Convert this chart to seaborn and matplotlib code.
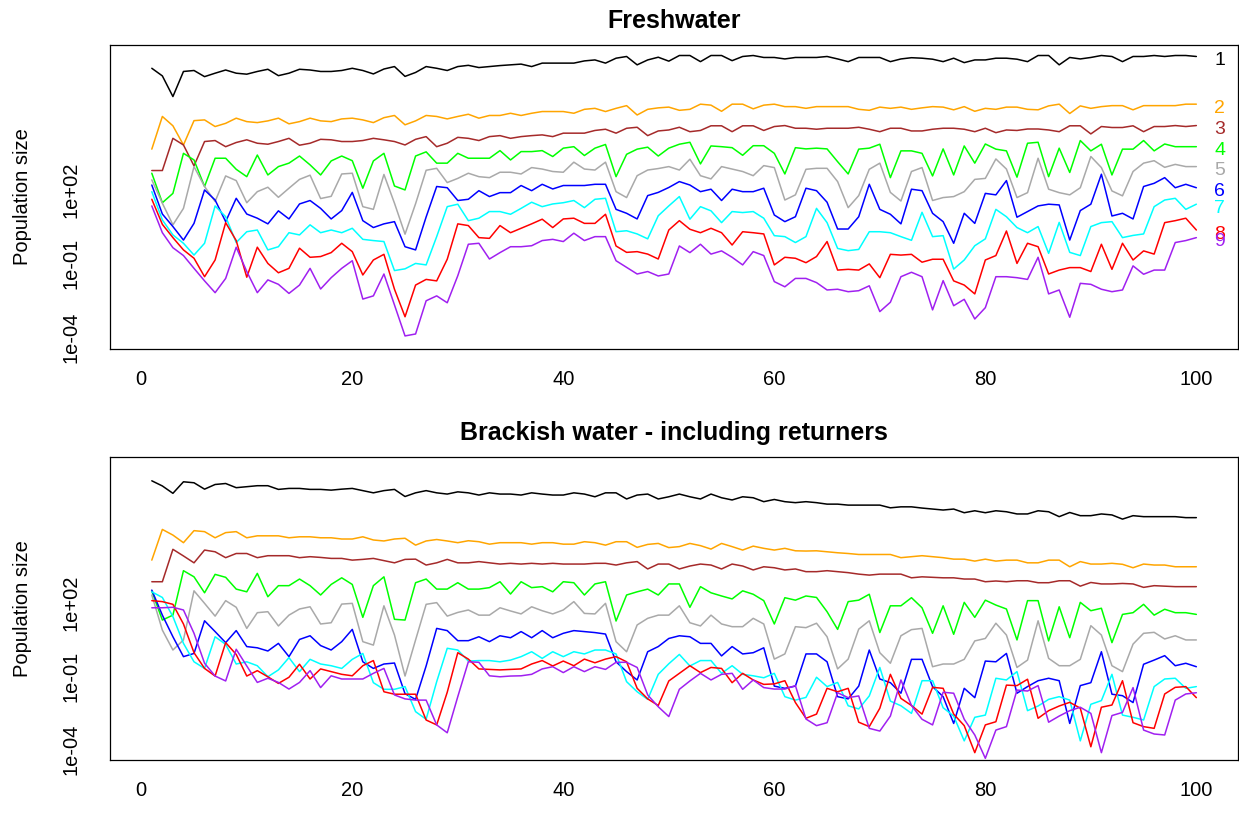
import numpy as np
import pandas as pd
import matplotlib
matplotlib.use("Agg")
import matplotlib.pyplot as plt
import seaborn as sns

# time steps and size classes
time = np.arange(1, 101)
class_labels = ["1", "2", "3", "4", "5", "6", "7", "8", "9"]
series_colors = ["black", "#FFA500", "#A52A2A", "#00FF00", "#A9A9A9",
                 "#0000FF", "#00FFFF", "#FF0000", "#A020F0"]
ytick_vals = [1e-4, 1e-1, 1e2, 1e5]
ytick_text = ["1e-04", "1e-01", "1e+02", ""]
xtick_vals = [0, 20, 40, 60, 80, 100]

# population size, log10 values
# Freshwater
fresh_1 = [6.95, 6.64, 5.80, 6.82, 6.86, 6.61, 6.75, 6.88, 6.75, 6.71,
           6.82, 6.91, 6.65, 6.75, 6.91, 6.88, 6.82, 6.82, 6.86, 6.95,
           6.86, 6.72, 6.92, 7.02, 6.62, 6.78, 7.02, 6.95, 6.86, 7.02,
           7.07, 6.98, 7.02, 7.06, 7.09, 7.12, 7.02, 7.16, 7.16, 7.16,
           7.16, 7.25, 7.29, 7.16, 7.36, 7.43, 7.09, 7.29, 7.40, 7.24,
           7.47, 7.47, 7.22, 7.47, 7.47, 7.26, 7.43, 7.47, 7.39, 7.39,
           7.33, 7.39, 7.39, 7.39, 7.43, 7.33, 7.22, 7.39, 7.39, 7.39,
           7.22, 7.33, 7.38, 7.36, 7.32, 7.22, 7.36, 7.18, 7.29, 7.29,
           7.36, 7.36, 7.32, 7.22, 7.47, 7.47, 7.09, 7.39, 7.33, 7.39,
           7.47, 7.43, 7.22, 7.43, 7.43, 7.47, 7.43, 7.47, 7.47, 7.43]
fresh_2 = [3.66, 4.99, 4.61, 3.83, 4.82, 4.85, 4.58, 4.71, 4.92, 4.78,
           4.74, 4.81, 4.92, 4.69, 4.78, 4.92, 4.81, 4.78, 4.89, 4.92,
           4.85, 4.74, 4.94, 5.03, 4.65, 4.81, 5.03, 4.99, 4.89, 4.99,
           5.08, 4.92, 5.03, 5.03, 5.12, 5.03, 5.12, 5.19, 5.19, 5.19,
           5.12, 5.28, 5.32, 5.19, 5.32, 5.43, 5.05, 5.28, 5.34, 5.37,
           5.24, 5.28, 5.49, 5.45, 5.20, 5.49, 5.49, 5.30, 5.45, 5.49,
           5.39, 5.39, 5.32, 5.39, 5.39, 5.39, 5.39, 5.28, 5.24, 5.37,
           5.32, 5.37, 5.28, 5.34, 5.39, 5.37, 5.26, 5.39, 5.20, 5.32,
           5.28, 5.37, 5.37, 5.28, 5.26, 5.42, 5.49, 5.11, 5.42, 5.32,
           5.39, 5.43, 5.43, 5.26, 5.43, 5.43, 5.43, 5.43, 5.49, 5.49]
fresh_3 = [2.79, 2.79, 4.10, 3.83, 2.98, 3.97, 4.01, 3.76, 3.93, 4.04,
           3.90, 3.86, 3.97, 4.10, 3.82, 3.90, 4.06, 4.04, 3.97, 3.97,
           4.01, 4.10, 4.04, 3.97, 3.83, 4.06, 4.17, 3.76, 3.90, 4.14,
           4.10, 4.01, 4.17, 4.21, 4.10, 4.17, 4.21, 4.24, 4.17, 4.31,
           4.31, 4.31, 4.42, 4.47, 4.31, 4.51, 4.55, 4.21, 4.40, 4.44,
           4.55, 4.37, 4.42, 4.61, 4.61, 4.37, 4.61, 4.61, 4.42, 4.58,
           4.62, 4.51, 4.51, 4.47, 4.51, 4.51, 4.51, 4.55, 4.47, 4.37,
           4.51, 4.51, 4.40, 4.40, 4.47, 4.51, 4.51, 4.47, 4.37, 4.51,
           4.33, 4.44, 4.42, 4.48, 4.48, 4.44, 4.37, 4.61, 4.61, 4.28,
           4.58, 4.54, 4.54, 4.61, 4.37, 4.58, 4.58, 4.62, 4.58, 4.62]
fresh_4 = [2.68, 1.48, 1.86, 3.49, 3.22, 2.14, 3.29, 3.29, 2.84, 2.54,
           3.42, 2.61, 2.95, 3.09, 3.38, 3.02, 2.61, 3.18, 3.38, 3.19,
           2.07, 3.18, 3.49, 2.16, 2.00, 3.38, 3.55, 3.09, 3.09, 3.49,
           3.29, 3.29, 3.29, 3.60, 3.22, 3.56, 3.56, 3.60, 3.36, 3.70,
           3.76, 3.40, 3.70, 3.85, 2.54, 3.45, 3.66, 3.74, 3.38, 3.70,
           3.86, 3.94, 3.06, 3.79, 3.76, 3.72, 3.41, 3.80, 3.80, 3.49,
           2.65, 3.72, 3.67, 3.70, 3.67, 3.15, 2.65, 3.66, 3.70, 3.86,
           2.50, 3.59, 3.59, 3.49, 2.57, 3.67, 2.61, 3.79, 3.09, 3.87,
           3.66, 3.59, 2.52, 3.90, 3.94, 2.54, 3.70, 2.71, 4.01, 3.59,
           3.86, 2.61, 3.66, 3.66, 4.01, 3.59, 3.87, 3.76, 3.76, 3.76]
fresh_5 = [2.41, 1.46, 0.58, 1.25, 2.95, 2.14, 1.53, 2.57, 2.38, 1.48,
           1.93, 2.11, 1.70, 2.07, 2.43, 2.60, 1.65, 1.74, 2.65, 2.68,
           1.32, 1.21, 2.63, 1.46, 0.20, 1.44, 2.80, 2.88, 2.30, 2.47,
           2.68, 2.54, 2.50, 2.72, 2.72, 2.65, 2.91, 2.85, 2.75, 2.72,
           3.13, 2.85, 2.81, 3.13, 1.93, 1.69, 2.58, 2.81, 2.87, 2.95,
           2.81, 3.25, 2.58, 2.45, 2.95, 2.85, 2.75, 2.58, 2.99, 2.91,
           1.59, 1.80, 2.84, 2.88, 2.88, 2.34, 1.28, 1.77, 2.84, 3.09,
           1.90, 1.55, 2.75, 2.91, 1.57, 1.69, 1.73, 1.93, 2.43, 2.47,
           3.26, 2.85, 1.69, 1.89, 3.29, 2.03, 1.89, 1.80, 2.09, 3.36,
           2.91, 1.96, 1.76, 2.75, 3.09, 3.19, 2.92, 3.04, 2.95, 2.95]
fresh_6 = [2.20, 1.02, 0.51, -0.04, 0.64, 2.00, 1.59, 0.71, 1.66, 1.02,
           0.85, 0.62, 1.15, 0.82, 1.43, 1.57, 1.25, 0.82, 1.16, 1.90,
           0.75, 0.47, 0.62, 0.71, -0.31, -0.44, 0.90, 2.14, 2.09, 1.57,
           1.62, 1.97, 1.73, 1.89, 1.89, 2.18, 1.97, 2.23, 2.04, 2.18,
           2.18, 2.18, 2.23, 2.23, 1.21, 1.05, 0.82, 1.77, 1.90, 2.10,
           2.34, 2.20, 1.93, 2.03, 1.57, 2.03, 1.93, 1.93, 2.07, 0.98,
           0.71, 0.91, 2.07, 1.97, 1.50, 0.41, 0.41, 0.91, 2.23, 1.21,
           1.01, 0.62, 2.03, 1.97, 1.05, 0.71, -0.17, 1.05, 0.64, 1.86,
           1.80, 2.38, 0.89, 1.12, 1.35, 1.42, 1.39, -0.04, 1.16, 1.42,
           2.64, 0.94, 1.05, 0.82, 2.14, 2.27, 2.50, 2.09, 2.23, 2.09]
fresh_7 = [1.93, 0.78, 0.17, -0.17, -0.65, -0.17, 1.35, 0.91, -0.14, 0.30,
           0.37, -0.44, -0.31, 0.26, 0.17, 0.58, 0.26, 0.37, 0.26, 0.44,
           -0.01, -0.06, -0.10, -1.28, -1.21, -0.99, -1.05, 0.10, 1.32, 1.42,
           0.75, 0.85, 1.12, 1.12, 1.01, 1.25, 1.50, 1.32, 1.43, 1.48,
           1.57, 1.28, 1.62, 1.66, 0.30, 0.34, 0.21, 0.01, 0.95, 1.35,
           1.73, 0.81, 1.32, 1.15, 0.67, 1.12, 1.08, 1.12, 0.85, 0.14,
           0.10, -0.14, 0.10, 1.25, 0.67, -0.38, -0.47, -0.42, 0.30, 0.30,
           0.26, 0.10, -0.05, 1.09, 0.10, 0.14, -1.22, -0.85, -0.27, 0.01,
           1.21, 0.91, 0.47, 0.26, 0.51, -0.58, 0.68, -0.54, -0.67, 0.51,
           0.67, 0.71, 0.06, 0.15, 0.21, 1.32, 1.59, 1.66, 1.21, 1.42]
fresh_8 = [1.62, 0.60, 0.06, -0.44, -0.78, -1.53, -0.85, 0.67, -0.06, -1.55,
           -0.33, -0.99, -1.37, -1.19, -0.37, -0.74, -0.71, -0.55, -0.17, -0.51,
           -1.46, -0.85, -0.62, -2.04, -3.16, -1.87, -1.64, -1.70, -0.82, 0.62,
           0.55, 0.06, 0.03, 0.55, 0.26, 0.44, 0.62, 0.81, 0.47, 0.82,
           0.85, 0.64, 0.64, 1.01, -0.28, -0.54, -0.51, -0.61, -0.81, 0.37,
           0.75, 0.40, 0.26, 0.44, 0.26, -0.24, 0.30, 0.26, 0.21, -1.05,
           -0.74, -0.78, -0.96, -0.71, -0.10, -1.26, -1.23, -1.26, -1.01, -1.57,
           -0.62, -0.65, -0.62, -0.94, -0.82, -0.82, -1.70, -1.87, -2.23, -0.85,
           -0.67, 0.33, -0.99, -0.17, -0.31, -1.42, -1.26, -1.16, -1.16, -1.32,
           -0.21, -1.23, -0.17, -0.85, -0.48, -0.61, 0.67, 0.75, 0.85, 0.37]
fresh_9 = [1.35, 0.26, -0.35, -0.67, -1.19, -1.70, -2.18, -1.60, -0.33, -1.32,
           -2.18, -1.66, -1.84, -2.21, -1.87, -1.19, -2.03, -1.57, -1.19, -0.88,
           -2.44, -2.31, -1.42, -2.68, -3.94, -3.86, -2.51, -2.31, -2.59, -1.49,
           -0.21, -0.17, -0.81, -0.55, -0.31, -0.31, -0.27, -0.06, -0.01, -0.10,
           0.24, -0.06, 0.10, 0.10, -0.88, -1.15, -1.42, -1.32, -1.50, -1.42,
           -0.28, -0.55, -0.21, -0.61, -0.48, -0.74, -1.05, -0.51, -0.67, -1.73,
           -1.94, -1.60, -1.60, -1.77, -2.07, -2.04, -2.14, -2.10, -1.90, -2.95,
           -2.57, -1.53, -1.35, -1.53, -2.88, -1.69, -2.71, -2.45, -3.25, -2.79,
           -1.53, -1.53, -1.57, -1.64, -0.74, -2.23, -2.07, -3.18, -1.80, -1.84,
           -2.04, -2.14, -2.07, -1.09, -1.43, -1.26, -1.26, -0.14, -0.06, 0.06]

# Brackish water - including returners
brack_1 = [6.95, 6.74, 6.44, 6.91, 6.87, 6.61, 6.80, 6.84, 6.67, 6.71,
           6.75, 6.75, 6.60, 6.64, 6.64, 6.60, 6.60, 6.57, 6.61, 6.64,
           6.55, 6.46, 6.55, 6.60, 6.31, 6.46, 6.55, 6.46, 6.41, 6.50,
           6.46, 6.37, 6.46, 6.41, 6.41, 6.37, 6.46, 6.41, 6.37, 6.37,
           6.46, 6.41, 6.30, 6.46, 6.46, 6.21, 6.37, 6.41, 6.21, 6.30,
           6.41, 6.30, 6.21, 6.41, 6.26, 6.17, 6.30, 6.26, 6.10, 6.19,
           6.10, 6.06, 6.10, 6.06, 6.00, 6.00, 5.96, 5.96, 5.96, 5.96,
           5.85, 5.89, 5.89, 5.84, 5.80, 5.76, 5.80, 5.65, 5.73, 5.65,
           5.73, 5.69, 5.60, 5.60, 5.73, 5.69, 5.49, 5.66, 5.53, 5.53,
           5.60, 5.56, 5.39, 5.53, 5.49, 5.49, 5.49, 5.49, 5.45, 5.45]
brack_2 = [3.72, 4.97, 4.74, 4.43, 4.92, 4.88, 4.63, 4.84, 4.88, 4.63,
           4.71, 4.71, 4.71, 4.63, 4.67, 4.67, 4.63, 4.63, 4.58, 4.58,
           4.67, 4.54, 4.50, 4.58, 4.61, 4.33, 4.50, 4.56, 4.50, 4.43,
           4.51, 4.47, 4.37, 4.43, 4.43, 4.43, 4.37, 4.43, 4.43, 4.37,
           4.37, 4.47, 4.43, 4.33, 4.47, 4.47, 4.24, 4.36, 4.40, 4.23,
           4.27, 4.40, 4.31, 4.17, 4.40, 4.27, 4.13, 4.29, 4.20, 4.13,
           4.20, 4.10, 4.09, 4.10, 4.06, 4.02, 3.99, 3.95, 3.95, 3.95,
           3.95, 3.82, 3.86, 3.90, 3.86, 3.82, 3.76, 3.76, 3.68, 3.76,
           3.68, 3.72, 3.72, 3.61, 3.61, 3.72, 3.72, 3.45, 3.66, 3.56,
           3.56, 3.59, 3.55, 3.41, 3.56, 3.52, 3.52, 3.45, 3.45, 3.45]
brack_3 = [2.84, 2.84, 4.16, 3.89, 3.61, 4.13, 4.06, 3.82, 3.99, 3.99,
           3.82, 3.90, 3.90, 3.90, 3.82, 3.86, 3.83, 3.79, 3.79, 3.72,
           3.75, 3.79, 3.70, 3.61, 3.75, 3.76, 3.52, 3.61, 3.75, 3.61,
           3.61, 3.66, 3.61, 3.56, 3.59, 3.56, 3.59, 3.56, 3.59, 3.56,
           3.56, 3.56, 3.59, 3.59, 3.52, 3.61, 3.66, 3.36, 3.56, 3.56,
           3.36, 3.48, 3.56, 3.52, 3.36, 3.56, 3.48, 3.32, 3.45, 3.41,
           3.32, 3.36, 3.25, 3.25, 3.29, 3.25, 3.21, 3.15, 3.11, 3.15,
           3.15, 3.15, 3.00, 3.04, 3.02, 3.00, 3.00, 2.95, 2.95, 2.84,
           2.87, 2.84, 2.88, 2.88, 2.80, 2.80, 2.88, 2.88, 2.66, 2.81,
           2.75, 2.75, 2.77, 2.75, 2.61, 2.68, 2.66, 2.64, 2.64, 2.64]
brack_4 = [2.46, 1.28, 1.48, 3.29, 3.04, 2.39, 3.14, 3.02, 2.54, 2.43,
           3.18, 2.23, 2.68, 2.68, 2.95, 2.68, 2.30, 2.73, 3.00, 2.73,
           1.39, 2.68, 3.04, 1.31, 1.28, 2.80, 2.95, 2.54, 2.54, 2.80,
           2.54, 2.54, 2.60, 2.84, 2.34, 2.84, 2.60, 2.64, 2.43, 2.84,
           2.80, 2.30, 2.75, 2.84, 1.24, 2.30, 2.43, 2.54, 2.30, 2.75,
           2.75, 1.80, 2.64, 2.39, 2.26, 2.14, 2.47, 2.33, 2.07, 1.12,
           2.19, 2.09, 2.26, 2.20, 1.62, 0.90, 2.03, 2.09, 2.33, 0.77,
           1.86, 1.86, 2.19, 1.78, 0.74, 1.86, 0.70, 2.00, 1.39, 2.09,
           1.89, 1.73, 0.47, 2.07, 2.07, 0.43, 1.82, 0.56, 2.00, 1.66,
           1.76, 0.36, 1.51, 1.58, 1.92, 1.48, 1.72, 1.58, 1.58, 1.51]
brack_5 = [2.30, 0.87, 0.06, 0.47, 2.47, 1.96, 1.44, 2.07, 1.80, 0.94,
           1.58, 1.62, 1.04, 1.48, 1.73, 1.82, 1.12, 1.17, 1.93, 1.96,
           0.40, 0.26, 1.86, 0.67, -1.00, 0.47, 1.92, 1.99, 1.44, 1.59,
           1.69, 1.48, 1.48, 1.78, 1.65, 1.53, 1.82, 1.66, 1.53, 1.69,
           2.03, 1.55, 1.53, 1.96, 0.40, -0.01, 1.08, 1.35, 1.48, 1.48,
           1.86, 1.17, 1.04, 1.48, 1.12, 1.01, 1.01, 1.35, 1.12, -0.31,
           -0.10, 1.01, 0.97, 1.15, 0.60, -0.71, -0.31, 0.91, 1.25, -0.05,
           -0.48, 0.64, 0.89, 0.94, -0.62, -0.51, -0.51, -0.32, 0.43, 0.53,
           1.15, 0.67, -0.65, -0.35, 1.25, -0.28, -0.58, -0.58, -0.32, 1.05,
           0.67, -0.58, -0.82, 0.30, 0.74, 0.78, 0.51, 0.64, 0.47, 0.47]
brack_6 = [2.50, 1.48, 0.60, -0.21, -0.08, 1.25, 0.81, 0.36, 0.85, 0.20,
           0.15, 0.02, 0.33, -0.21, 0.49, 0.64, 0.24, 0.06, 0.40, 0.90,
           -0.42, -0.69, -0.51, -0.47, -1.72, -1.95, -0.59, 0.94, 0.85, 0.44,
           0.44, 0.60, 0.40, 0.64, 0.56, 0.81, 0.56, 0.85, 0.56, 0.74,
           0.85, 0.81, 0.77, 0.71, -0.42, -0.82, -1.16, -0.01, 0.20, 0.53,
           0.64, 0.60, 0.33, 0.33, -0.18, 0.20, -0.10, -0.05, 0.15, -1.41,
           -1.50, -1.41, -0.10, -0.10, -0.42, -1.84, -1.93, -1.41, 0.06, -1.12,
           -1.27, -1.70, -0.32, -0.32, -1.43, -1.84, -2.93, -1.50, -1.88, -0.39,
           -0.42, -0.08, -1.70, -1.43, -1.19, -1.09, -1.19, -2.93, -1.39, -1.27,
           -0.01, -1.74, -1.80, -2.08, -0.52, -0.35, -0.17, -0.58, -0.48, -0.62]
brack_7 = [2.43, 2.20, 1.42, 0.33, -0.42, -0.69, 0.60, 0.29, -0.51, -0.42,
           -0.58, -1.03, -0.75, -0.25, -0.82, -0.32, -0.51, -0.58, -0.69, -0.32,
           -0.08, -1.27, -1.54, -1.54, -1.43, -2.45, -2.76, -1.23, 0.13, 0.06,
           -0.39, -0.37, -0.37, -0.42, -0.35, -0.21, -0.01, -0.28, -0.01, -0.21,
           -0.01, -0.10, 0.06, 0.06, -0.10, -1.23, -1.64, -1.95, -0.93, -0.50,
           -0.12, -0.59, -0.37, -0.37, -0.89, -0.58, -0.93, -0.99, -1.07, -0.89,
           -1.84, -1.98, -1.87, -1.05, -1.43, -1.26, -2.21, -2.34, -1.81, -0.65,
           -2.02, -2.21, -2.52, -1.19, -1.19, -2.29, -2.63, -3.64, -2.68, -2.59,
           -1.09, -1.16, -0.82, -2.41, -2.22, -1.95, -1.84, -1.98, -3.64, -2.15,
           -2.00, -0.93, -2.59, -2.68, -2.79, -1.43, -1.12, -1.09, -1.50, -1.43]
brack_8 = [2.07, 2.03, 1.92, 1.12, -0.05, -0.69, -1.00, 0.36, -0.12, -1.00,
           -0.78, -1.03, -1.30, -1.05, -0.52, -1.12, -0.71, -0.82, -0.93, -0.99,
           -0.58, -0.37, -1.64, -1.74, -1.74, -1.74, -2.79, -2.99, -1.66, -0.05,
           -0.31, -0.71, -0.73, -0.75, -0.73, -0.71, -0.51, -0.37, -0.59, -0.39,
           -0.58, -0.31, -0.46, -0.31, -0.21, -0.42, -1.50, -1.93, -2.20, -1.20,
           -0.89, -0.58, -0.86, -0.65, -0.69, -1.27, -0.89, -1.16, -1.34, -1.32,
           -1.19, -2.08, -2.72, -2.55, -1.50, -1.64, -1.50, -2.88, -3.06, -2.31,
           -0.93, -1.91, -2.20, -2.55, -1.46, -1.50, -2.55, -3.02, -4.12, -2.99,
           -2.86, -1.37, -1.39, -1.13, -2.72, -2.41, -2.22, -2.07, -2.31, -3.88,
           -2.27, -2.18, -1.19, -2.90, -3.06, -3.13, -1.73, -1.46, -1.43, -1.88]
brack_9 = [1.78, 1.78, 1.80, 1.69, 0.74, -0.48, -1.00, -1.20, 0.09, -0.59,
           -1.26, -1.09, -1.26, -1.53, -1.26, -0.78, -1.47, -0.99, -1.12, -1.12,
           -1.12, -0.89, -0.69, -1.77, -1.93, -1.98, -1.98, -2.99, -3.31, -1.84,
           -0.42, -0.44, -0.99, -1.03, -1.00, -0.99, -0.93, -0.71, -0.62, -0.86,
           -0.62, -0.82, -0.62, -0.73, -0.44, -0.44, -0.65, -1.77, -2.25, -2.65,
           -1.54, -1.20, -0.89, -1.16, -0.93, -0.89, -1.54, -1.16, -1.47, -1.53,
           -1.53, -1.39, -2.75, -3.02, -2.90, -1.68, -1.88, -1.81, -3.13, -3.24,
           -2.63, -1.16, -2.20, -2.76, -2.99, -1.66, -1.70, -2.76, -3.40, -4.35,
           -3.20, -3.06, -1.57, -1.61, -1.39, -2.88, -2.63, -2.41, -2.27, -2.52,
           -4.12, -2.61, -2.48, -1.47, -3.20, -3.36, -3.40, -1.98, -1.73, -1.68]

fresh_series = [fresh_1, fresh_2, fresh_3, fresh_4, fresh_5,
                fresh_6, fresh_7, fresh_8, fresh_9]
brack_series = [brack_1, brack_2, brack_3, brack_4, brack_5,
                brack_6, brack_7, brack_8, brack_9]


def to_long(series_list):
    frames = []
    for name, vals in zip(class_labels, series_list):
        frames.append(pd.DataFrame({"time": time,
                                    "size": 10 ** np.array(vals),
                                    "class": name}))
    return pd.concat(frames, ignore_index=True)


sns.set_theme(style="white")
plt.rcParams["font.family"] = ["Liberation Sans", "DejaVu Sans"]
plt.rcParams["text.color"] = "black"
plt.rcParams["axes.labelcolor"] = "black"

fig = plt.figure(figsize=(12.39, 8.14), dpi=100)
ax1 = fig.add_axes([0.0888, 0.5713, 0.9105, 0.3735])
ax2 = fig.add_axes([0.0888, 0.0663, 0.9105, 0.3726])
palette = dict(zip(class_labels, series_colors))

panels = [(ax1, fresh_series, "Freshwater", (10 ** -4.47, 10 ** 7.9)),
          (ax2, brack_series, "Brackish water - including returners", (10 ** -4.42, 10 ** 7.93))]

for ax, series, title, ylim in panels:
    df = to_long(series)
    sns.lineplot(data=df, x="time", y="size", hue="class", palette=palette,
                 estimator=None, legend=False, linewidth=1.1, ax=ax)
    ax.set_yscale("log")
    ax.set_ylim(*ylim)
    ax.set_xlim(-2.96, 103.96)
    ax.set_xticks(xtick_vals)
    ax.set_xticklabels([str(v) for v in xtick_vals])
    ax.set_yticks(ytick_vals)
    ax.set_yticklabels(ytick_text, rotation=90, va="center")
    ax.minorticks_off()
    ax.tick_params(axis="both", direction="out", length=9, width=0.9,
                   color="black", labelsize=14.5, labelcolor="black")
    ax.tick_params(axis="y", pad=12)
    ax.tick_params(axis="x", pad=6)
    ax.set_xlabel("")
    ax.set_ylabel("Population size", fontsize=14.5, color="black")
    ax.yaxis.set_label_coords(-0.078, 0.5)
    ax.yaxis.label.set_verticalalignment("center")
    ax.set_title(title, fontsize=18, fontweight="bold", pad=12, color="black")
    for sp in ax.spines.values():
        sp.set_visible(True)
        sp.set_color("black")
        sp.set_linewidth(0.9)

# class numbers at the right end of the freshwater lines
for name, vals, col in zip(class_labels, fresh_series, series_colors):
    ax1.annotate(name, xy=(102.2, 10 ** vals[-1]), xytext=(0, -3),
                 textcoords="offset points", color=col, fontsize=14,
                 ha="center", va="center")

fig.savefig("out.png", dpi=100)
